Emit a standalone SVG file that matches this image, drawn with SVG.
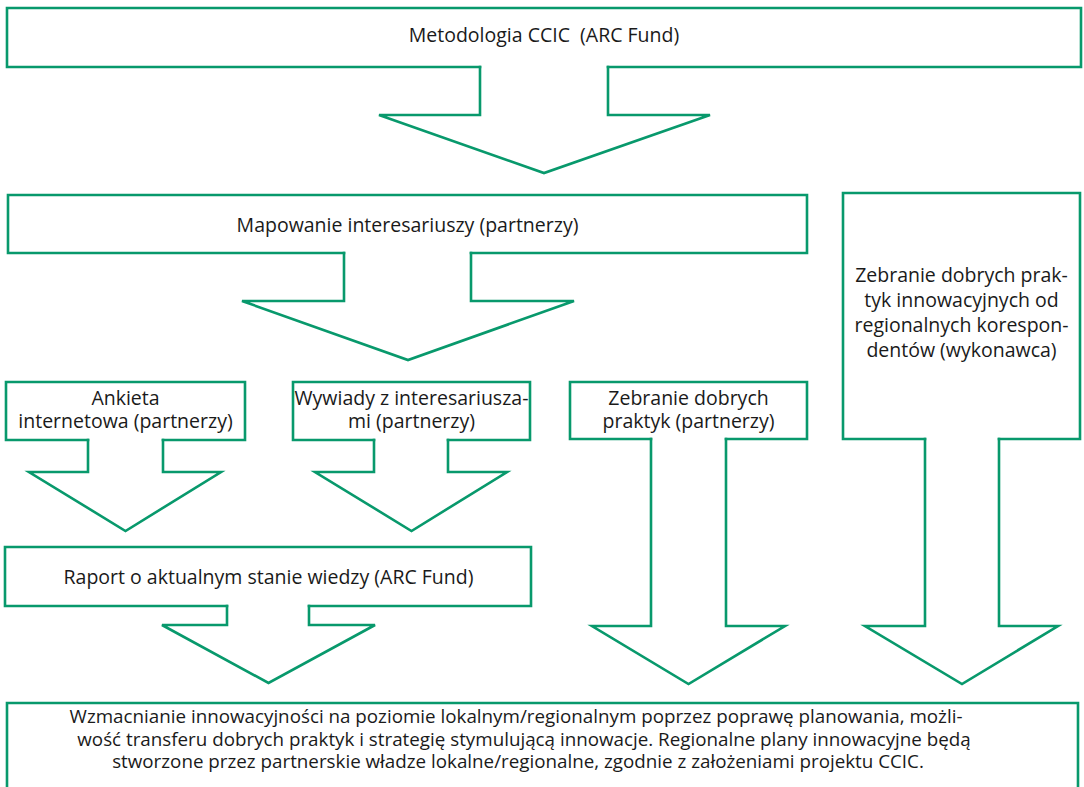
<svg xmlns="http://www.w3.org/2000/svg" width="1084" height="787" viewBox="0 0 1084 787">
<style>
  .box { fill: none; stroke: #08996c; stroke-width: 2.6; stroke-linecap: square; stroke-linejoin: miter; }
  .arr { fill: none; stroke: #08996c; stroke-width: 2.6; stroke-linecap: square; stroke-linejoin: miter; }
  text { font-family: "Open Sans", "Noto Sans", "Liberation Sans", sans-serif; font-size: 19.5px; fill: #1a1a1a; text-anchor: middle; }
  .pre { white-space: pre; }
  .small { font-size: 18.8px; }
</style>
<rect width="1084" height="787" fill="#ffffff"/>
<g id="n-metodologia">
  <path class="box" d="M480,67 L7,67 L7,8 L1081,8 L1081,67 L608,67"/>
  <text x="544" y="42" class="pre" xml:space="preserve">Metodologia CCIC  (ARC Fund)</text>
</g>
<g id="n-mapowanie">
  <path class="box" d="M344,253 L8,253 L8,195 L807,195 L807,253 L471,253"/>
  <text x="407.5" y="232">Mapowanie interesariuszy (partnerzy)</text>
</g>
<g id="n-zebranie-koresp">
  <path class="box" d="M925,439 L843,439 L843,193 L1080,193 L1080,439 L999,439"/>
  <text x="961.5" y="282">Zebranie dobrych prak-</text>
  <text x="961.5" y="307">tyk innowacyjnych od</text>
  <text x="961.5" y="332">regionalnych korespon-</text>
  <text x="961.5" y="357">dentów (wykonawca)</text>
</g>
<g id="n-ankieta">
  <path class="box" d="M88,440 L6,440 L6,382 L245,382 L245,440 L163,440"/>
  <text x="125.5" y="405">Ankieta</text>
  <text x="125.5" y="428">internetowa (partnerzy)</text>
</g>
<g id="n-wywiady">
  <path class="box" d="M374,440 L293,440 L293,382 L530,382 L530,440 L448,440"/>
  <text x="411.5" y="405">Wywiady z interesariusza-</text>
  <text x="411.5" y="428">mi (partnerzy)</text>
</g>
<g id="n-zebranie-partnerzy">
  <path class="box" d="M651,439 L570,439 L570,382 L807,382 L807,439 L726,439"/>
  <text x="688.5" y="405">Zebranie dobrych</text>
  <text x="688.5" y="428">praktyk (partnerzy)</text>
</g>
<g id="n-raport">
  <path class="box" d="M227,606 L5,606 L5,547 L531,547 L531,606 L309,606"/>
  <text x="268.5" y="584">Raport o aktualnym stanie wiedzy (ARC Fund)</text>
</g>
<g id="n-wynik">
  <path class="box" d="M7,792 L7,703 L1078,703 L1078,792"/>
  <text class="small" x="516" y="723">Wzmacnianie innowacyjności na poziomie lokalnym/regionalnym poprzez poprawę planowania, możli-</text>
  <text class="small" x="524" y="746">wość transferu dobrych praktyk i strategię stymulującą innowacje. Regionalne plany innowacyjne będą</text>
  <text class="small" x="518" y="768">stworzone przez partnerskie władze lokalne/regionalne, zgodnie z założeniami projektu CCIC.</text>
</g>
<g id="connectors">
  <path class="arr" d="M480,67 L480,115 L379,115 L544,173 L710,115 L608,115 L608,67"/>
  <path class="arr" d="M344,253 L344,301 L242,301 L408,360 L574,301 L471,301 L471,253"/>
  <path class="arr" d="M925,439 L925,626 L865,626 L962,684 L1058,626 L999,626 L999,439"/>
  <path class="arr" d="M651,439 L651,626 L592,626 L688.5,684 L785,626 L726,626 L726,439"/>
  <path class="arr" d="M88,440 L88,472 L29,472 L125.5,531 L221,472 L163,472 L163,440"/>
  <path class="arr" d="M374,440 L374,472 L315,472 L411.5,531 L507,472 L448,472 L448,440"/>
  <path class="arr" d="M227,606 L227,625 L162,625 L268.5,683 L375,625 L309,625 L309,606"/>
</g>
</svg>
